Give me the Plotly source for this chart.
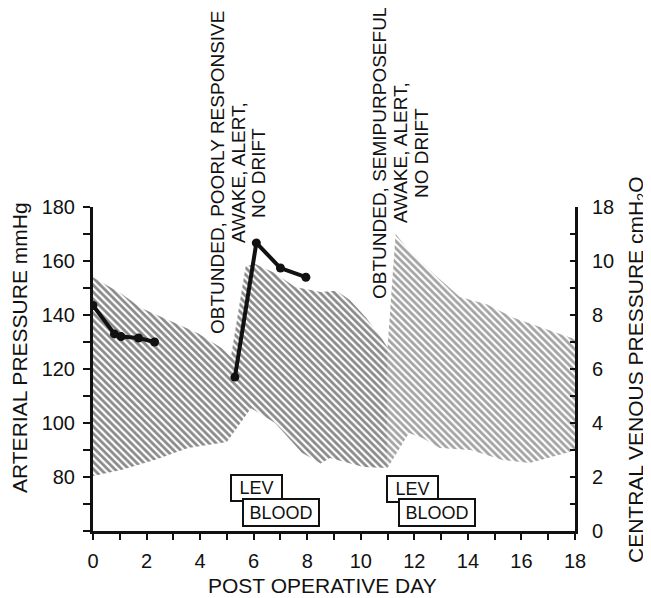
import plotly.graph_objects as go

# ---- data ----
band_upper_days = [0, 1.05, 1.8, 3.06, 3.9, 4.8, 5.15, 5.7, 6.05, 6.8, 7.55, 8.5, 9.1, 9.6, 10.2, 10.8, 11.0,
                   11.3, 11.8, 12.7, 13.7, 14.7, 15.7, 16.7, 17.7, 18]
band_upper_mmhg = [154, 148, 142.6, 137, 133.3, 127.8, 124.4, 158, 159, 155.5, 150.4, 148.5, 149, 145.5, 139, 131, 128,
                   170, 164, 155.5, 146.7, 144, 139, 135.5, 132, 131]
band_lower_days = [0, 1.05, 2.3, 3.55, 5.0, 5.9, 6.8, 7.8, 8.5, 8.85, 10.1, 11.0,
                   11.8, 12.3, 12.95, 14.1, 15.3, 16.3, 17.8, 18]
band_lower_mmhg = [80.4, 82.6, 86.3, 90.7, 93, 105.5, 100, 89, 85, 87, 83.7, 83.3,
                   96.3, 94.4, 90.7, 90, 86.3, 85.2, 89.3, 90]
band_split_day = 11.0

cvp1_days = [0, 0.8, 1.05, 1.7, 2.3]
cvp1_vals = [8.35, 7.3, 7.2, 7.15, 7.0]
cvp2_days = [5.3, 6.1, 7.0, 7.95]
cvp2_vals = [5.7, 10.67, 9.74, 9.4]

x_tickvals = list(range(0, 19))
x_ticktext = [str(d) if d % 2 == 0 else "" for d in x_tickvals]
left_tickvals = list(range(60, 181, 10))
left_ticktext = [str(v) if (v % 20 == 0 and v >= 80) else "" for v in left_tickvals]
right_tickvals = list(range(0, 13))
right_ticktext = ["0", "", "2", "", "4", "", "6", "", "8", "", "10", "", "18"]

note1_lines = ["OBTUNDED, POORLY RESPONSIVE", "AWAKE, ALERT,", "NO DRIFT"]
note2_lines = ["OBTUNDED, SEMIPURPOSEFUL", "AWAKE, ALERT,", "NO DRIFT"]

FONT = "Liberation Sans, Arial, Helvetica, sans-serif"

# plot area in screen pixels (page body has an 8px margin)
PL, PR, PT, PB = 93, 575, 207, 531
PW, PH = PR - PL, PB - PT


def px_x(xp):
    return (xp - PL) / PW


def px_y(yp):
    return (PB - yp) / PH


fig = go.Figure()


def band_polygon(lo, hi):
    ux = [d for d in band_upper_days if lo <= d <= hi]
    uy = [v for d, v in zip(band_upper_days, band_upper_mmhg) if lo <= d <= hi]
    lx = [d for d in band_lower_days if lo <= d <= hi]
    ly = [v for d, v in zip(band_lower_days, band_lower_mmhg) if lo <= d <= hi]
    return ux + lx[::-1] + [ux[0]], uy + ly[::-1] + [uy[0]]


for (lo, hi), col in [((0, band_split_day), "#161616"), ((band_split_day, 18), "#484848")]:
    px_, py_ = band_polygon(lo, hi)
    fig.add_trace(go.Scatter(
        x=px_, y=py_, mode="lines", fill="toself",
        line=dict(width=0, color="rgba(0,0,0,0)"),
        fillcolor="rgba(0,0,0,0)",
        fillpattern=dict(shape="\\", size=5, solidity=0.55, fgcolor=col, bgcolor="rgba(0,0,0,0)"),
        hoverinfo="skip", showlegend=False, yaxis="y"))

for xs, ys in [(cvp1_days, cvp1_vals), (cvp2_days, cvp2_vals)]:
    fig.add_trace(go.Scatter(
        x=xs, y=ys, mode="lines+markers", yaxis="y2",
        line=dict(color="#111111", width=4),
        marker=dict(color="#111111", size=9),
        showlegend=False))

annotations = []
# rotated notes at top
for lines, xs_px, yc_px in [(note1_lines, [217, 238, 258], 173), (note2_lines, [380, 401, 422], 153)]:
    for txt, xp in zip(lines, xs_px):
        annotations.append(dict(
            text=txt, textangle=-90, showarrow=False,
            xref="paper", yref="paper",
            x=px_x(xp), y=px_y(yc_px),
            xanchor="center", yanchor="middle",
            font=dict(family=FONT, size=19, color="#111111")))

# LEV / BLOOD boxes
for txt, xd, yd, w in [("LEV", 6.1, 76.1, 49), ("BLOOD", 7.02, 67.0, 74),
                       ("LEV", 11.95, 75.7, 49), ("BLOOD", 12.85, 66.85, 74)]:
    annotations.append(dict(
        text=txt, showarrow=False, xref="x", yref="y", x=xd, y=yd,
        xanchor="center", yanchor="middle",
        width=w, height=24 if txt == "LEV" else 25,
        bgcolor="white", bordercolor="#111111", borderwidth=2, borderpad=0,
        font=dict(family=FONT, size=18, color="#111111")))

# axis titles
annotations.append(dict(text="ARTERIAL PRESSURE mmHg", textangle=-90, showarrow=False,
                        xref="paper", yref="paper", x=px_x(19), y=px_y(348),
                        xanchor="center", yanchor="middle",
                        font=dict(family=FONT, size=21, color="#111111")))
annotations.append(dict(text="CENTRAL VENOUS PRESSURE cmH<sub>2</sub>O", textangle=-90, showarrow=False,
                        xref="paper", yref="paper", x=px_x(637), y=px_y(370),
                        xanchor="center", yanchor="middle",
                        font=dict(family=FONT, size=21, color="#111111")))
annotations.append(dict(text="POST OPERATIVE DAY", showarrow=False,
                        xref="paper", yref="paper", x=px_x(322), y=px_y(585),
                        xanchor="center", yanchor="middle",
                        font=dict(family=FONT, size=21, color="#111111")))

axis_common = dict(showgrid=False, zeroline=False, showline=True, linecolor="#111111",
                   linewidth=3, tickcolor="#111111", tickwidth=2,
                   tickfont=dict(family=FONT, size=20, color="#111111"))

W, H = 651 - 8, 598 - 8
fig.update_layout(
    width=W, height=H,
    margin=dict(l=PL - 8, r=W - (PR - 8), t=PT - 8, b=H - (PB - 8)),
    paper_bgcolor="white", plot_bgcolor="white",
    showlegend=False,
    xaxis=dict(range=[0, 18], tickmode="array", tickvals=x_tickvals, ticktext=x_ticktext,
               ticks="outside", ticklen=6, ticklabelstandoff=4, **axis_common),
    yaxis=dict(range=[60, 180], tickmode="array", tickvals=left_tickvals, ticktext=left_ticktext,
               ticks="outside", ticklen=7, ticklabelstandoff=4, **axis_common),
    yaxis2=dict(range=[0, 12], overlaying="y", side="right", anchor="x",
                tickmode="array", tickvals=right_tickvals, ticktext=right_ticktext,
                ticks="inside", ticklen=5, ticklabelstandoff=10, **axis_common),
    annotations=annotations,
)

fig.write_html("out.html")
